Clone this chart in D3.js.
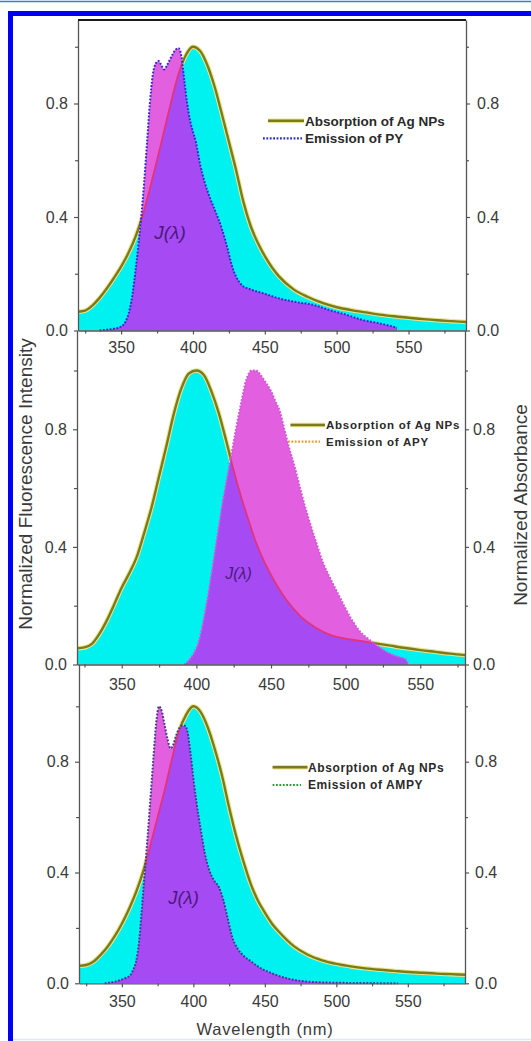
<!DOCTYPE html>
<html>
<head>
<meta charset="utf-8">
<script src="https://cdn.jsdelivr.net/npm/d3@7"></script>
<style>
  html, body { margin: 0; padding: 0; background: #fff; }
  svg { display: block; }
  text { font-family: "Liberation Sans", Arial, sans-serif; }
</style>
</head>
<body>
<svg id="chart" width="531" height="1041"></svg>
<script>
// ---------- data ----------
// Absorption of Ag NPs (top and bottom panels share the wavelength grid)
const absLambda = [320,325,330,335,340,345,350,355,360,365,370,375,380,385,390,395,400,405,410,415,420,425,430,435,440,445,450,455,460,470,480,490,500,510,520,530,540,550,560,570,580,590];
const absTopValues = [0.066,0.07,0.088,0.115,0.148,0.185,0.225,0.272,0.33,0.405,0.5,0.6,0.705,0.81,0.905,0.97,1.0,0.985,0.935,0.86,0.765,0.665,0.565,0.455,0.37,0.31,0.262,0.222,0.19,0.145,0.118,0.097,0.082,0.072,0.064,0.056,0.05,0.045,0.04,0.036,0.033,0.03];
const absBottomValues = [0.063,0.066,0.078,0.102,0.132,0.17,0.215,0.268,0.33,0.405,0.5,0.6,0.7,0.81,0.91,0.97,1.0,0.98,0.925,0.845,0.75,0.635,0.53,0.44,0.36,0.3,0.255,0.215,0.185,0.135,0.103,0.083,0.07,0.061,0.054,0.049,0.045,0.041,0.038,0.035,0.033,0.031];

// Absorption of Ag NPs (middle panel, 320-580 nm)
const absMidLambda = [320,325,330,335,340,345,350,355,360,365,370,375,380,385,390,395,400,405,410,415,420,425,430,435,440,445,450,455,460,470,480,490,500,510,520,530,540,550,560,570,580];
const absMidValues = [0.055,0.058,0.07,0.104,0.15,0.205,0.262,0.31,0.365,0.447,0.535,0.64,0.745,0.855,0.94,0.99,1.0,0.985,0.93,0.855,0.76,0.66,0.57,0.49,0.415,0.355,0.305,0.26,0.222,0.163,0.125,0.1,0.088,0.08,0.072,0.064,0.056,0.049,0.043,0.037,0.032];

// Emission of PY
const pyLambda = [335,340,345,350,353,356,358,360,362,364,366,368,370,372,374,376,378,380,382,384,386,388,390,392,394,396,398,400,402,405,408,412,416,420,424,427,430,434,440,449,460,472,484,495,507,518,530,542];
const pyValues = [0,0.003,0.006,0.014,0.03,0.075,0.13,0.21,0.3,0.4,0.52,0.66,0.8,0.9,0.94,0.95,0.935,0.92,0.935,0.955,0.975,0.99,0.995,0.965,0.88,0.8,0.74,0.7,0.665,0.585,0.525,0.465,0.415,0.36,0.29,0.23,0.19,0.16,0.145,0.131,0.113,0.1,0.09,0.072,0.055,0.037,0.025,0.01];

// Emission of APY
const apyLambda = [392,396,399,401.5,404,407,410.5,414,417.5,421,424,426.5,430,433.5,437,440,443,447,450,453,456,459,462,466,470,475,480,485,490,495,500,505,510,515,520,525,530,535,540,542];
const apyValues = [0,0.02,0.045,0.075,0.13,0.21,0.32,0.435,0.548,0.645,0.73,0.8,0.89,0.97,1.0,1.0,0.985,0.955,0.93,0.895,0.86,0.8,0.74,0.67,0.59,0.5,0.42,0.345,0.29,0.24,0.19,0.145,0.11,0.088,0.068,0.05,0.036,0.026,0.018,0];

// Emission of AMPY
const ampyLambda = [338,345,352,356,358,360,362,364,366,368,370,372,374,376,378,380,382,384,386,388,390,392,394,396,398,400,402,405,408,411,414,418,421,424,427,431,435,440,446,455,467,480,500,520,543];
const ampyValues = [0,0.006,0.018,0.03,0.05,0.08,0.15,0.27,0.4,0.53,0.67,0.81,0.94,1.0,0.98,0.93,0.88,0.848,0.862,0.895,0.92,0.93,0.93,0.905,0.83,0.74,0.66,0.56,0.47,0.41,0.375,0.345,0.3,0.235,0.17,0.125,0.1,0.08,0.058,0.036,0.016,0.006,0.002,0.001,0];

// ticks and texts
const xTickLabels = [350, 400, 450, 500, 550];
const xMinorTicks = [325, 375, 425, 475, 525, 575];
const yTickLabels = [0, 0.4, 0.8];
const yMinorTicks = [0.2, 0.6, 1.0];
const absorptionName = "Absorption of Ag NPs";
const emissionNames = ["Emission of PY", "Emission of APY", "Emission of AMPY"];
const overlapLabel = "J(λ)";
const xTitle = "Wavelength (nm)";
const yLeftTitle = "Normalized Fluorescence Intensity";
const yRightTitle = "Normalized Absorbance";

// ---------- layout & styles ----------
const COLORS = {
  cyan: "#00f2f0",
  magenta: "#e25fdf",
  purple: "#a64af3",
  olive: "#7b7a1c",
  halo: "#ece48c",
  absInside: "#e2347a",
  axis: "#555",
  text: "#3a3a3a",
  jLabel: "#4a1a7e"
};

const panels = [
  {
    absL: absLambda, absV: absTopValues, emL: pyLambda, emV: pyValues, emName: emissionNames[0],
    lam: [320, 590], x0: 78, x1: 466, yBase: 330.5, yTop: 20, unit: 283.75,
    xPad: 7, frameTop: true,
    emStroke: "#2b2bcf", legendEm: "#2b2bcf",
    legend: { absX1: 268, absX2: 304, absY: 120.7, emX1: 263, emX2: 302, emY: 138.3, tx: 305, size: 13.5, spacing: 0 },
    jl: { x: 170, y: 232, size: 19 },
    rightPad: 7
  },
  {
    absL: absMidLambda, absV: absMidValues, emL: apyLambda, emV: apyValues, emName: emissionNames[1],
    lam: [320, 580], x0: 77, x1: 465, yBase: 664.5, yTop: 330.5, unit: 294,
    xPad: 10, frameTop: false,
    emStroke: "#cf58d6", legendEm: "#f39a2c",
    legend: { absX1: 290.5, absX2: 325, absY: 425, emX1: 288, emX2: 320, emY: 441.7, tx: 326, size: 11.5, spacing: 0.75 },
    jl: { x: 238.5, y: 573, size: 16 },
    rightPad: 4
  },
  {
    absL: absLambda, absV: absBottomValues, emL: ampyLambda, emV: ampyValues, emName: emissionNames[2],
    lam: [320, 590], x0: 79, x1: 465, yBase: 983.3, yTop: 664.5, unit: 277,
    xPad: 8, frameTop: false,
    emStroke: "#3b3b92", legendEm: "#2e9a3a",
    legend: { absX1: 272.6, absX2: 307.5, absY: 767.3, emX1: 272.6, emX2: 301, emY: 785, tx: 308, size: 12, spacing: 0.6 },
    jl: { x: 183.5, y: 898, size: 18.5 },
    rightPad: 6
  }
];

const svg = d3.select("#chart");
const defs = svg.append("defs");
const zip = (l, v) => l.map((d, i) => [d, v[i]]);

// outer page frame
svg.append("rect").attr("x", 0).attr("y", 0).attr("width", 531).attr("height", 1041).attr("fill", "#fff");
svg.append("line").attr("x1", 0).attr("x2", 531).attr("y1", 1.5).attr("y2", 1.5)
  .attr("stroke", "#3f7ccb").attr("stroke-width", 1.5);
svg.append("rect").attr("x", 8).attr("y", 11).attr("width", 523).attr("height", 5).attr("fill", "#0000f5");
svg.append("rect").attr("x", 8).attr("y", 11).attr("width", 5).attr("height", 1030).attr("fill", "#0000f5");
svg.append("line").attr("x1", 13).attr("x2", 531).attr("y1", 1039.5).attr("y2", 1039.5)
  .attr("stroke", "#dfe7f6").attr("stroke-width", 1.5);

panels.forEach((p, k) => {
  const x = d3.scaleLinear().domain(p.lam).range([p.x0, p.x1]);
  const ymax = (p.yBase - p.yTop) / p.unit;
  const y = d3.scaleLinear().domain([0, ymax]).range([p.yBase, p.yTop]);

  const absPts = zip(p.absL, p.absV);
  const emPts = zip(p.emL, p.emV);
  const emFull = [[p.lam[0], 0], ...emPts, [p.lam[1], 0]];

  const curve = d3.curveMonotoneX;
  const line = d3.line().x(d => x(d[0])).y(d => y(d[1])).curve(curve);
  const under = d3.area().x(d => x(d[0])).y0(p.yBase).y1(d => y(d[1])).curve(curve);
  const underPad = d3.area().x(d => x(d[0])).y0(p.yBase + 8).y1(d => y(d[1])).curve(curve);
  const above = d3.area().x(d => x(d[0])).y0(p.yTop - 8).y1(d => y(d[1])).curve(curve);

  // clip regions: under absorption, above emission, under emission
  defs.append("clipPath").attr("id", `absClip${k}`).append("path").attr("d", under(absPts));
  defs.append("clipPath").attr("id", `aboveEm${k}`).append("path").attr("d", above(emFull));
  defs.append("clipPath").attr("id", `underEm${k}`).append("path").attr("d", underPad(emFull));

  const g = svg.append("g");

  // fills
  g.append("path").attr("d", under(absPts)).attr("fill", COLORS.cyan);
  g.append("path").attr("d", under(emPts)).attr("fill", COLORS.magenta);
  g.append("path").attr("d", under(emPts)).attr("fill", COLORS.purple)
    .attr("clip-path", `url(#absClip${k})`);

  // absorption line: olive where it lies above the emission, crimson inside it
  const outer = g.append("g").attr("clip-path", `url(#aboveEm${k})`);
  outer.append("path").attr("d", line(absPts)).attr("fill", "none")
    .attr("stroke", COLORS.halo).attr("stroke-width", 4.5);
  outer.append("path").attr("d", line(absPts)).attr("fill", "none")
    .attr("stroke", COLORS.olive).attr("stroke-width", 2.4);
  g.append("path").attr("d", line(absPts)).attr("fill", "none")
    .attr("stroke", COLORS.absInside).attr("stroke-width", 1.8)
    .attr("clip-path", `url(#underEm${k})`);

  // emission outline (dotted)
  g.append("path").attr("d", line(emPts)).attr("fill", "none")
    .attr("stroke", p.emStroke).attr("stroke-width", 2)
    .attr("stroke-dasharray", "1.8,1.6");

  // ---- axes ----
  const styleAxis = sel => {
    sel.attr("font-family", "\"Liberation Sans\", Arial, sans-serif").attr("font-size", 16);
    sel.selectAll(".domain").attr("stroke", COLORS.axis).attr("stroke-width", 1.3);
    sel.selectAll(".tick line").attr("stroke", COLORS.axis).attr("stroke-width", 1.2);
    sel.selectAll(".tick text").attr("fill", COLORS.text);
  };

  const gx = g.append("g").attr("transform", `translate(0,${p.yBase})`)
    .call(d3.axisBottom(x).tickValues(xTickLabels).tickSize(4).tickSizeOuter(0)
      .tickPadding(p.xPad).tickFormat(d3.format("d")));
  styleAxis(gx);
  const gxm = g.append("g").attr("transform", `translate(0,${p.yBase})`)
    .call(d3.axisBottom(x).tickValues(xMinorTicks).tickSize(3).tickFormat(""));
  gxm.select(".domain").remove();
  styleAxis(gxm);

  const gyl = g.append("g").attr("transform", `translate(${p.x0},0)`)
    .call(d3.axisLeft(y).tickValues(yTickLabels).tickSize(4).tickSizeOuter(0)
      .tickPadding(6).tickFormat(d3.format(".1f")));
  styleAxis(gyl);
  const gylm = g.append("g").attr("transform", `translate(${p.x0},0)`)
    .call(d3.axisLeft(y).tickValues(yMinorTicks).tickSize(3).tickFormat(""));
  gylm.select(".domain").remove();
  styleAxis(gylm);

  const gyr = g.append("g").attr("transform", `translate(${p.x1},0)`)
    .call(d3.axisRight(y).tickValues(yTickLabels).tickSize(4).tickSizeOuter(0)
      .tickPadding(p.rightPad).tickFormat(d3.format(".1f")));
  styleAxis(gyr);
  const gyrm = g.append("g").attr("transform", `translate(${p.x1},0)`)
    .call(d3.axisRight(y).tickValues(yMinorTicks).tickSize(3).tickFormat(""));
  gyrm.select(".domain").remove();
  styleAxis(gyrm);

  if (p.frameTop) {
    g.append("line").attr("x1", p.x0).attr("x2", p.x1).attr("y1", p.yTop).attr("y2", p.yTop)
      .attr("stroke", "#1a1a1a").attr("stroke-width", 2.2);
  }

  // ---- legend ----
  const L = p.legend;
  g.append("line").attr("x1", L.absX1).attr("x2", L.absX2).attr("y1", L.absY).attr("y2", L.absY)
    .attr("stroke", COLORS.halo).attr("stroke-width", 4.5);
  g.append("line").attr("x1", L.absX1).attr("x2", L.absX2).attr("y1", L.absY).attr("y2", L.absY)
    .attr("stroke", COLORS.olive).attr("stroke-width", 2.6);
  g.append("line").attr("x1", L.emX1).attr("x2", L.emX2).attr("y1", L.emY).attr("y2", L.emY)
    .attr("stroke", p.legendEm).attr("stroke-width", 2.2).attr("stroke-dasharray", "1.8,1.6");
  g.append("text").attr("x", L.tx).attr("y", L.absY).attr("dy", "0.36em")
    .attr("font-size", L.size).attr("font-weight", "bold").attr("letter-spacing", L.spacing)
    .attr("fill", "#2a2a2a").text(absorptionName);
  g.append("text").attr("x", L.tx).attr("y", L.emY).attr("dy", "0.36em")
    .attr("font-size", L.size).attr("font-weight", "bold").attr("letter-spacing", L.spacing)
    .attr("fill", "#2a2a2a").text(p.emName);

  // overlap integral label
  g.append("text").attr("x", p.jl.x).attr("y", p.jl.y).attr("dy", "0.35em")
    .attr("text-anchor", "middle").attr("font-size", p.jl.size).attr("font-style", "italic")
    .attr("fill", COLORS.jLabel).text(overlapLabel);
});

// axis titles
svg.append("text").attr("transform", "translate(32,484) rotate(-90)")
  .attr("text-anchor", "middle").attr("font-size", 19).attr("fill", COLORS.text).text(yLeftTitle);
svg.append("text").attr("transform", "translate(527,505) rotate(-90)")
  .attr("text-anchor", "middle").attr("font-size", 19).attr("fill", COLORS.text).text(yRightTitle);
svg.append("text").attr("x", 265).attr("y", 1035)
  .attr("text-anchor", "middle").attr("font-size", 16.5).attr("letter-spacing", 0.8)
  .attr("fill", COLORS.text).text(xTitle);
</script>
</body>
</html>
